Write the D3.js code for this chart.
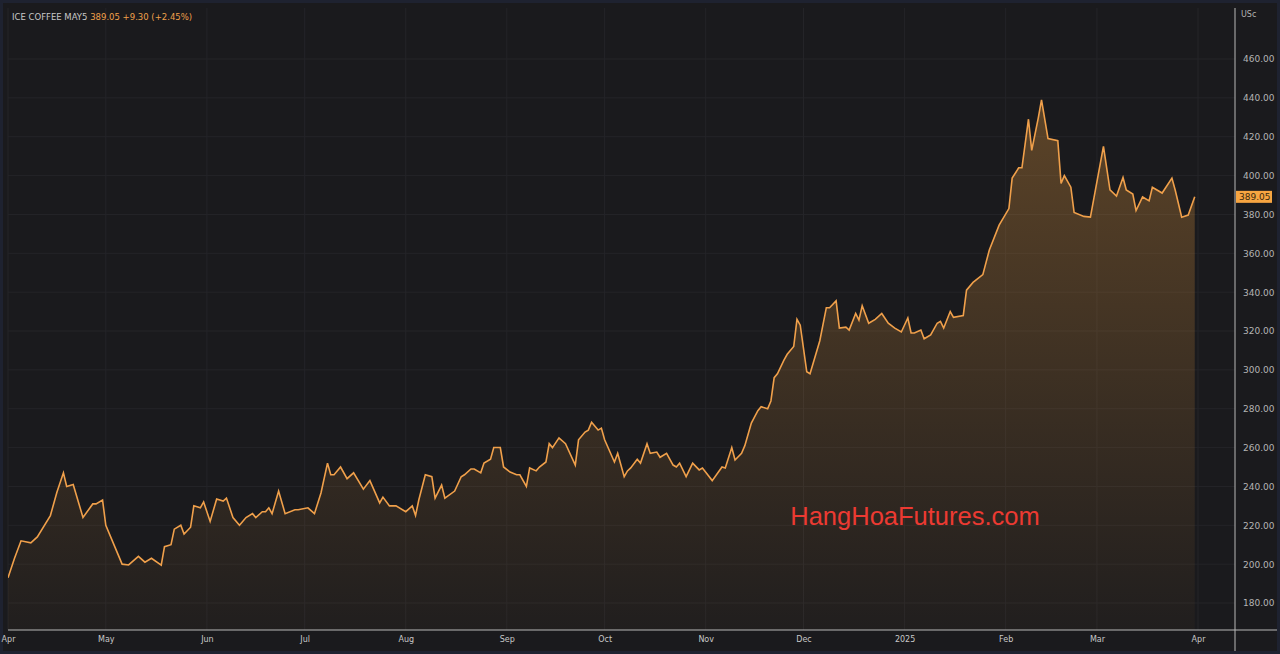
<!DOCTYPE html>
<html><head><meta charset="utf-8">
<script src="https://cdn.jsdelivr.net/npm/d3@7"></script>
<style>html,body{margin:0;padding:0;background:#1e2230;}svg{display:block;}</style>
</head><body><svg id="c" width="1280" height="654"></svg>
<script>
const dates=["2024-04-01","2024-04-03","2024-04-05","2024-04-08","2024-04-10","2024-04-14","2024-04-16","2024-04-18","2024-04-19","2024-04-21","2024-04-24","2024-04-27","2024-04-28","2024-04-30","2024-05-01","2024-05-04","2024-05-06","2024-05-08","2024-05-11","2024-05-13","2024-05-15","2024-05-18","2024-05-19","2024-05-21","2024-05-22","2024-05-24","2024-05-25","2024-05-27","2024-05-28","2024-05-30","2024-05-31","2024-06-02","2024-06-04","2024-06-06","2024-06-07","2024-06-09","2024-06-11","2024-06-13","2024-06-15","2024-06-16","2024-06-18","2024-06-19","2024-06-20","2024-06-21","2024-06-23","2024-06-25","2024-06-28","2024-06-29","2024-07-02","2024-07-04","2024-07-06","2024-07-08","2024-07-09","2024-07-10","2024-07-12","2024-07-14","2024-07-16","2024-07-19","2024-07-21","2024-07-24","2024-07-25","2024-07-27","2024-07-29","2024-08-01","2024-08-03","2024-08-04","2024-08-05","2024-08-07","2024-08-09","2024-08-10","2024-08-12","2024-08-13","2024-08-16","2024-08-18","2024-08-19","2024-08-21","2024-08-22","2024-08-24","2024-08-25","2024-08-27","2024-08-28","2024-08-30","2024-08-31","2024-09-02","2024-09-04","2024-09-05","2024-09-07","2024-09-08","2024-09-10","2024-09-11","2024-09-13","2024-09-14","2024-09-15","2024-09-17","2024-09-19","2024-09-22","2024-09-23","2024-09-25","2024-09-26","2024-09-27","2024-09-29","2024-09-30","2024-10-01","2024-10-04","2024-10-05","2024-10-07","2024-10-08","2024-10-09","2024-10-11","2024-10-12","2024-10-14","2024-10-15","2024-10-17","2024-10-18","2024-10-20","2024-10-22","2024-10-23","2024-10-24","2024-10-26","2024-10-28","2024-10-30","2024-10-31","2024-11-03","2024-11-06","2024-11-07","2024-11-09","2024-11-10","2024-11-12","2024-11-13","2024-11-15","2024-11-17","2024-11-18","2024-11-20","2024-11-21","2024-11-22","2024-11-23","2024-11-25","2024-11-26","2024-11-28","2024-11-29","2024-11-30","2024-12-02","2024-12-03","2024-12-06","2024-12-08","2024-12-09","2024-12-11","2024-12-12","2024-12-14","2024-12-15","2024-12-17","2024-12-18","2024-12-19","2024-12-21","2024-12-23","2024-12-25","2024-12-27","2024-12-29","2024-12-31","2025-01-02","2025-01-03","2025-01-04","2025-01-06","2025-01-07","2025-01-09","2025-01-11","2025-01-12","2025-01-13","2025-01-15","2025-01-16","2025-01-19","2025-01-20","2025-01-22","2025-01-25","2025-01-27","2025-01-30","2025-02-02","2025-02-03","2025-02-05","2025-02-06","2025-02-08","2025-02-09","2025-02-11","2025-02-12","2025-02-14","2025-02-17","2025-02-18","2025-02-19","2025-02-21","2025-02-22","2025-02-25","2025-02-27","2025-03-03","2025-03-05","2025-03-07","2025-03-09","2025-03-10","2025-03-12","2025-03-13","2025-03-15","2025-03-17","2025-03-18","2025-03-21","2025-03-24","2025-03-25","2025-03-27","2025-03-29","2025-03-31"];
const prices=[193,203,212,211,214,225,237,247,240,241,224,231,231,233,220,208,200,199.6,204,201,203,199.5,209,210,218,220,215.5,219,230,229,232,222,233.5,232.5,234,224,220,224,226,224,227,227,229,226,237.6,226,228,228,229,226,236.6,252,246,246,250,244,247,238.6,243,231.5,234.5,230,230,227,230,225,233,246,245,234,240.7,234,237.6,245,246,249,249,247,252,254,260,260,250,247.4,246,246,240,249.5,248,250,252.6,262,260,265,262,251,264,268,269,273,269,270,264,252.6,257,245,248,249.5,254,252,262,257,257.7,255,257,251,250,252,245,252,248.5,249.5,243,250,249.5,260,253.6,257,261,272.6,279,281,280,284,296,298,305,308,312,326,323,299,298,315,332,332,335.5,321.5,322,320.5,329,325.6,333,324,326,329,324,321.5,319.5,326.7,319,319,320.5,316,318,324,325,321.5,330,327,328,341,345,349,361.7,374.5,383,398.7,404,404,429,413,429.6,439,419,418,396,400,394,381,379,378.6,415,392.6,389.5,399,392.6,390.5,382,389,387,394,391,398.7,392.6,378.6,379.7,389.05];
const yTicks=[180,200,220,240,260,280,300,320,340,360,380,400,420,440,460];
const monthTicks=["2024-04-01","2024-05-01","2024-06-01","2024-07-01","2024-08-01","2024-09-01","2024-10-01","2024-11-01","2024-12-01","2025-01-01","2025-02-01","2025-03-01","2025-04-01"];
const monthLabels=["Apr","May","Jun","Jul","Aug","Sep","Oct","Nov","Dec","2025","Feb","Mar","Apr"];
const symbol="ICE COFFEE MAY5", lastText="389.05", changeText="+9.30 (+2.45%)", unit="USc", watermark="HangHoaFutures.com";

const P=d3.timeParse("%Y-%m-%d");
const data=dates.map((d,i)=>({d:P(d),v:prices[i]}));
const svg=d3.select("#c");
const L=8,R=1235,T=8,B=630;
svg.append("rect").attr("x",0).attr("y",0).attr("width",1280).attr("height",654).attr("fill","#1e2230");
svg.append("rect").attr("x",3).attr("y",3).attr("width",1274).attr("height",648).attr("fill","#1a1a1d");
const x=d3.scaleTime().domain([P("2024-04-01"),P("2025-04-01")]).range([L,1198]);
const y=d3.scaleLinear().domain([180,460]).range([603,59]);
const g=svg.append("g");
g.selectAll(".hg").data(yTicks).join("line").attr("x1",L).attr("x2",R).attr("y1",d=>y(d)).attr("y2",d=>y(d)).attr("stroke","#242428").attr("stroke-width",1);
g.selectAll(".vg").data(monthTicks).join("line").attr("x1",d=>x(P(d))).attr("x2",d=>x(P(d))).attr("y1",T).attr("y2",B).attr("stroke","#242428");
const defs=svg.append("defs");
const gr=defs.append("linearGradient").attr("id","gf").attr("gradientUnits","userSpaceOnUse").attr("x1",0).attr("x2",0).attr("y1",y(440)).attr("y2",B);
gr.append("stop").attr("offset","0%").attr("stop-color","#f7a541").attr("stop-opacity",0.3);
gr.append("stop").attr("offset","100%").attr("stop-color","#f7a541").attr("stop-opacity",0.03);
const cp=defs.append("clipPath").attr("id","cp");cp.append("rect").attr("x",L).attr("y",T).attr("width",R-L).attr("height",B-T);
const area=d3.area().x(d=>x(d.d)).y0(B).y1(d=>y(d.v));
const line=d3.line().x(d=>x(d.d)).y(d=>y(d.v));
g.append("path").datum(data).attr("d",area).attr("fill","url(#gf)").attr("clip-path","url(#cp)");
g.append("path").datum(data).attr("d",line).attr("fill","none").attr("stroke","#f0a04b").attr("stroke-width",1.6).attr("clip-path","url(#cp)");
svg.append("line").attr("x1",R).attr("x2",R).attr("y1",T).attr("y2",651).attr("stroke","#b8b8b8").attr("stroke-width",1);
svg.append("line").attr("x1",L).attr("x2",1277).attr("y1",B).attr("y2",B).attr("stroke","#b8b8b8").attr("stroke-width",1);
const ya=d3.axisRight(y).tickValues(yTicks).tickSize(0).tickPadding(8).tickFormat(d3.format(".2f"));
const yg=svg.append("g").attr("transform",`translate(${R},0)`).call(ya);
yg.select(".domain").remove();
yg.selectAll("text").attr("fill","#b4b4b4").style("font","9px 'DejaVu Sans', sans-serif");
const xa=d3.axisBottom(x).tickValues(monthTicks.map(P)).tickSize(0).tickPadding(6).tickFormat((d,i)=>monthLabels[i]);
const xg=svg.append("g").attr("transform",`translate(0,${B})`).call(xa);
xg.select(".domain").remove();
xg.selectAll("text").attr("fill","#c8c8c8").style("font","8px 'DejaVu Sans', sans-serif");
svg.append("text").attr("x",1241).attr("y",17).attr("fill","#b4b4b4").style("font","8px 'DejaVu Sans', sans-serif").text(unit);
const ly=y(prices[prices.length-1]);
svg.append("rect").attr("x",R+1).attr("y",ly-6).attr("width",36).attr("height",12).attr("fill","#f7a541");
svg.append("text").attr("x",R+4).attr("y",ly+3.5).attr("fill","#3a2a10").style("font","9px 'DejaVu Sans', sans-serif").text(lastText);
const t=svg.append("text").attr("x",12).attr("y",20).style("font","8.5px 'DejaVu Sans', sans-serif");
t.append("tspan").attr("fill","#c8c8c8").text(symbol+"  ");
t.append("tspan").attr("fill","#f0a04b").text(lastText+"  "+changeText);
svg.append("text").attr("x",915).attr("y",525).attr("text-anchor","middle").attr("fill","#ec3a32").style("font","25.5px 'Liberation Sans', Arial, sans-serif").text(watermark);
</script></body></html>
